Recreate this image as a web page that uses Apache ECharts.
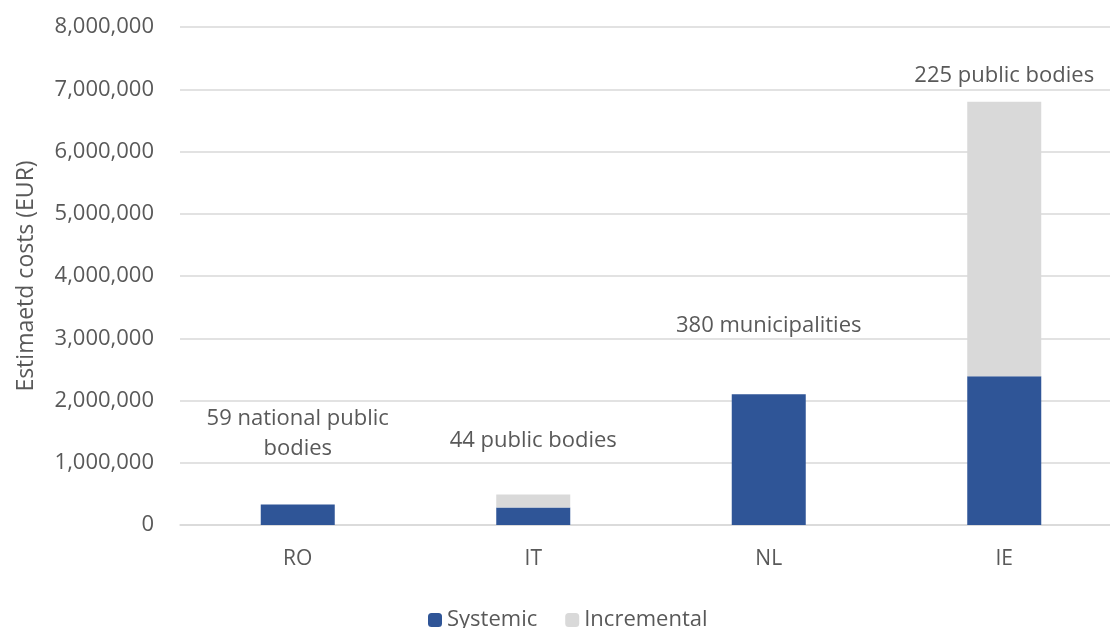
<!DOCTYPE html>
<html>
<head>
<meta charset="utf-8">
<script src="https://cdn.jsdelivr.net/npm/echarts@6/dist/echarts.min.js"></script>
<style>
  html, body { margin: 0; padding: 0; background: #fff; overflow: hidden; }
  #chart { width: 1122px; height: 628px; }
</style>
</head>
<body>
<div id="chart"></div>
<script>
// data
const countries = ['RO', 'IT', 'NL', 'IE'];
const systemic = [330000, 280000, 2100000, 2390000];
const incremental = [0, 210000, 0, 4410000];
const notes = ['59 national public\nbodies', '44 public bodies', '380 municipalities', '225 public bodies'];
const noteLift = [-36, -34, -49, -6];

const chart = echarts.init(document.getElementById('chart'), null, { renderer: 'canvas' });
const grey = '#595959';
const font = '"Open Sans", "DejaVu Sans", sans-serif';

const option = {
    animation: false,
    textStyle: { fontFamily: font },
    // the reference plot runs past the right edge of the picture
    grid: { left: 180, right: 0, top: 27, bottom: 103 },
    legend: {
        bottom: -8,
        left: 423,
        itemWidth: 14,
        itemHeight: 14,
        itemGap: 28,
        textStyle: { color: grey, fontSize: 22, fontFamily: font },
        data: ['Systemic', 'Incremental']
    },
    xAxis: {
        type: 'category',
        data: countries,
        axisLine: { lineStyle: { color: '#d9d9d9', width: 1.5 } },
        axisTick: { show: false },
        axisLabel: { color: grey, fontSize: 21, margin: 24 }
    },
    yAxis: {
        type: 'value',
        min: 0,
        max: 8000000,
        interval: 1000000,
        name: 'Estimaetd costs (EUR)',
        nameLocation: 'middle',
        nameGap: 142,
        nameRotate: 90,
        nameTextStyle: { color: grey, fontSize: 23 },
        axisLine: { show: false },
        axisTick: { show: false },
        splitLine: { lineStyle: { color: '#d9d9d9', width: 1.5 } },
        axisLabel: {
            color: grey,
            fontSize: 22,
            margin: 26,
            formatter: v => v.toLocaleString('en-US')
        }
    },
    series: [
        {
            name: 'Systemic',
            type: 'bar',
            stack: 'cost',
            barWidth: 74,
            itemStyle: { color: '#2f5597' },
            data: systemic
        },
        {
            name: 'Incremental',
            type: 'bar',
            stack: 'cost',
            barWidth: 74,
            itemStyle: { color: '#d9d9d9' },
            data: incremental.map((v, i) => ({
                value: v,
                label: {
                    show: true,
                    position: 'top',
                    offset: [0, noteLift[i]],
                    formatter: notes[i],
                    color: grey,
                    fontSize: 22,
                    lineHeight: 30
                }
            }))
        }
    ]
};

chart.setOption(option);
</script>
</body>
</html>
